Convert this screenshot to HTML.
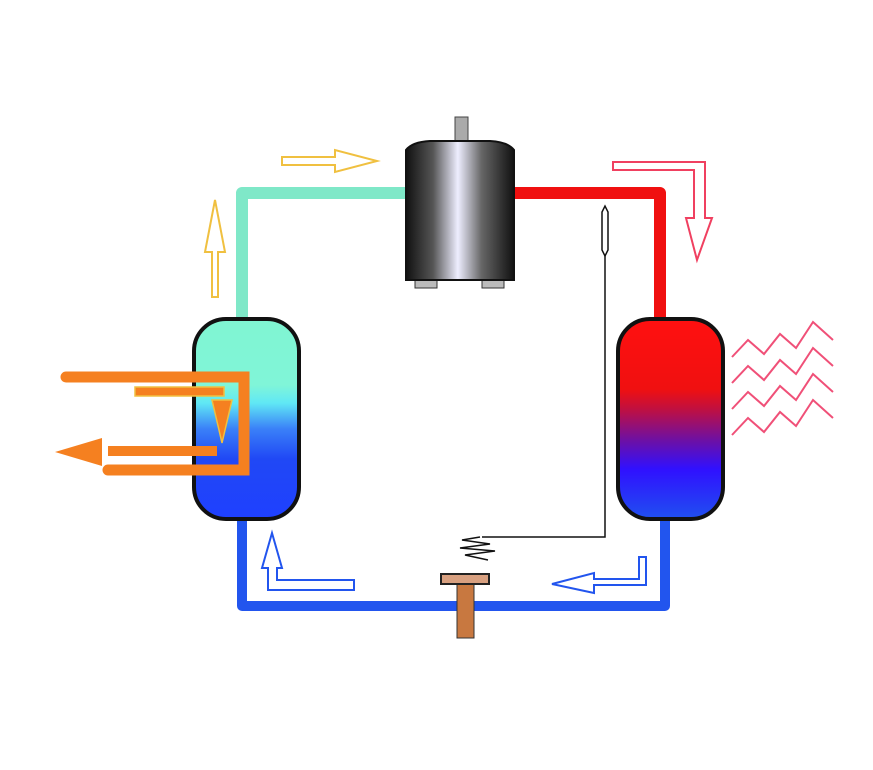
<!DOCTYPE html>
<html><head><style>body{margin:0;background:#fff}</style></head><body>
<svg width="873" height="765" viewBox="0 0 873 765" xmlns="http://www.w3.org/2000/svg">
<defs>
<linearGradient id="lt" x1="0" y1="0" x2="0" y2="1">
<stop offset="0" stop-color="#80f5d2"/><stop offset="0.33" stop-color="#80f5d8"/>
<stop offset="0.42" stop-color="#60e8f5"/><stop offset="0.55" stop-color="#3a80f8"/>
<stop offset="0.7" stop-color="#2048f5"/><stop offset="1" stop-color="#1f40ff"/></linearGradient>
<linearGradient id="rt" x1="0" y1="0" x2="0" y2="1">
<stop offset="0" stop-color="#ff1010"/><stop offset="0.35" stop-color="#f01010"/>
<stop offset="0.45" stop-color="#c01040"/><stop offset="0.6" stop-color="#7010a0"/>
<stop offset="0.75" stop-color="#3010ff"/><stop offset="1" stop-color="#2050f0"/></linearGradient>
<linearGradient id="cp" x1="0" y1="0" x2="1" y2="0">
<stop offset="0" stop-color="#111"/><stop offset="0.25" stop-color="#555"/>
<stop offset="0.48" stop-color="#eef"/><stop offset="0.7" stop-color="#666"/>
<stop offset="1" stop-color="#111"/></linearGradient>
</defs>
<polyline points="242,320 242,193 412,193" fill="none" stroke="#7fe8c8" stroke-width="12" stroke-linejoin="round"/>
<polyline points="512,193 660,193 660,320" fill="none" stroke="#f01010" stroke-width="12" stroke-linejoin="round"/>
<polyline points="242,518 242,606 665,606 665,518" fill="none" stroke="#2255ee" stroke-width="10" stroke-linejoin="round"/>
<rect x="455" y="117" width="13" height="28" fill="#aaa" stroke="#444"/>
<rect x="415" y="276" width="22" height="12" fill="#bbb" stroke="#333"/>
<rect x="482" y="276" width="22" height="12" fill="#bbb" stroke="#333"/>
<path d="M406,150 Q412,142 430,141 L490,141 Q508,142 514,150 L514,280 L406,280 Z" fill="url(#cp)" stroke="#111" stroke-width="2"/>
<rect x="194" y="319" width="105" height="200" rx="32" fill="url(#lt)" stroke="#111" stroke-width="4"/>
<rect x="618" y="319" width="105" height="200" rx="32" fill="url(#rt)" stroke="#111" stroke-width="4"/>
<polyline points="605,215 605,537 482,537" fill="none" stroke="#111" stroke-width="1.5"/>
<path d="M602,212 L602,250 L605,256 L608,250 L608,212 L605,206 Z" fill="#fff" stroke="#111" stroke-width="1.5"/>
<path d="M480,537 L462,540 L490,544 L460,548 L495,551 L465,555 L488,560" fill="none" stroke="#111" stroke-width="1.5"/>
<rect x="457" y="580" width="17" height="58" fill="#c87840" stroke="#333"/>
<rect x="441" y="574" width="48" height="10" fill="#d8a080" stroke="#222" stroke-width="2"/>
<path d="M66,377 L244,377 L244,470 L108,470" fill="none" stroke="#f58020" stroke-width="11" stroke-linecap="round"/>
<rect x="108" y="446" width="109" height="10" fill="#f58020"/>
<polygon points="55,452 102,438 102,466" fill="#f58020"/>
<rect x="135" y="387" width="89" height="9" fill="#f58020" stroke="#f0c040" stroke-width="1.5"/>
<polygon points="212,400 232,400 222,443" fill="#f58020" stroke="#f0c040" stroke-width="1.5"/>
<path d="M212,297 L212,252 L205,252 L215,200 L225,252 L218,252 L218,297 Z" fill="none" stroke="#f0c040" stroke-width="2"/>
<path d="M282,157 L335,157 L335,150 L377,161 L335,172 L335,165 L282,165 Z" fill="none" stroke="#f0c040" stroke-width="2"/>
<path d="M613,162 L705,162 L705,218 L712,218 L697,260 L686,218 L694,218 L694,170 L613,170 Z" fill="none" stroke="#f04060" stroke-width="2"/>
<path d="M354,590 L354,580 L277,580 L277,568 L282,568 L272,533 L262,568 L268,568 L268,590 Z" fill="none" stroke="#2255ee" stroke-width="2"/>
<path d="M646,557 L646,585 L594,585 L594,593 L552,584 L594,573 L594,579 L639,579 L639,557 Z" fill="none" stroke="#2255ee" stroke-width="2"/>
<g fill="none" stroke="#f05078" stroke-width="2">
<polyline points="732,357 748,340 764,354 780,334 796,348 813,322 833,340"/>
<polyline points="732,383 748,366 764,380 780,360 796,374 813,348 833,366"/>
<polyline points="732,409 748,392 764,406 780,386 796,400 813,374 833,392"/>
<polyline points="732,435 748,418 764,432 780,412 796,426 813,400 833,418"/>
</g>
</svg>
</body></html>
